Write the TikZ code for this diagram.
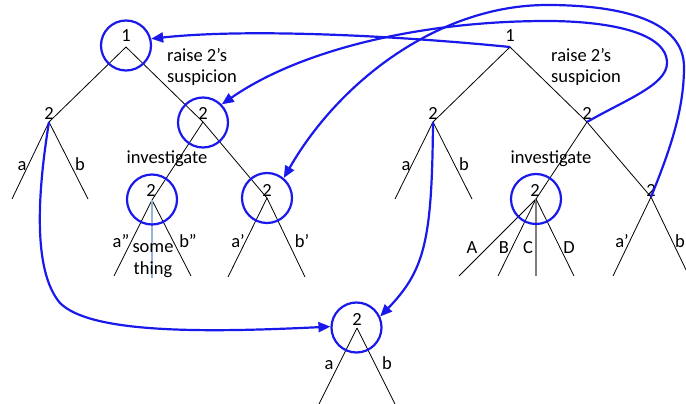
\documentclass[tikz,border=0pt]{standalone}
\usepackage{fontspec}
\setmainfont{Carlito}
\usetikzlibrary{arrows.meta}
\definecolor{arrowblue}{RGB}{25,25,235}
\definecolor{paleblue}{RGB}{150,180,215}
\definecolor{midgrey}{RGB}{125,125,125}
\begin{document}
\begin{tikzpicture}[x=1pt,y=-1pt,
  edge/.style={black, line width=0.8pt},
  ring/.style={circle, draw=arrowblue, line width=2.2pt, minimum size=50pt, inner sep=0pt},
  jump/.style={draw=arrowblue, line width=2.2pt, -{Triangle[length=12pt,width=10pt]}},
  lab/.style={font=\fontsize{18.5}{22}\selectfont, inner sep=0pt, anchor=base},
  labw/.style={lab, anchor=base west}]
\useasboundingbox (0,0) rectangle (686,404);
% vertices
\coordinate (L1) at (126,47);
\coordinate (L2a) at (49,122);
\coordinate (L2b) at (203,122);
\coordinate (L3a) at (152,200);
\coordinate (L3b) at (267,198);
\coordinate (La) at (12,199);
\coordinate (Lb) at (88,199);
\coordinate (La2) at (114,276);
\coordinate (Lb2) at (191,276);
\coordinate (Ls) at (152,278);
\coordinate (La1) at (228,277);
\coordinate (Lb1) at (305,277);
\coordinate (R1) at (510,47);
\coordinate (R2a) at (433,122);
\coordinate (R2b) at (587,122);
\coordinate (R3a) at (536,199);
\coordinate (R3b) at (651,197);
\coordinate (Ra) at (395,199);
\coordinate (Rb) at (472,199);
\coordinate (RA) at (459,276);
\coordinate (RB) at (498,276);
\coordinate (RC) at (536,276);
\coordinate (RD) at (574,276);
\coordinate (Ra1) at (613,276);
\coordinate (Rb1) at (689,276);
\coordinate (B) at (357,328);
\coordinate (Ba) at (319,404);
\coordinate (Bb) at (395,404);
% tree edges
\draw[edge] (L1) -- (L2a);
\draw[edge] (L1) -- (L2b);
\draw[edge] (L2b) -- (L3b);
\draw[edge] (L2b) -- (L3a);
\draw[edge] (L2a) -- (La);
\draw[edge] (L2a) -- (Lb);
\draw[edge] (L3a) -- (La2);
\draw[edge] (L3a) -- (Lb2);
\draw[paleblue, line width=1.5pt] (L3a) -- (Ls);
\draw[edge] (L3b) -- (La1);
\draw[edge] (L3b) -- (Lb1);
\draw[edge] (R1) -- (R2a);
\draw[edge] (R1) -- (R2b);
\draw[edge] (R2b) -- (R3b);
\draw[edge] (R2b) -- (R3a);
\draw[edge] (R2a) -- (Ra);
\draw[edge] (R2a) -- (Rb);
\draw[edge] (R3a) -- (RA);
\draw[edge] (R3a) -- (RB);
\draw[midgrey, line width=1.5pt] (R3a) -- (RC);
\draw[edge] (R3a) -- (RD);
\draw[edge] (R3b) -- (Ra1);
\draw[edge] (R3b) -- (Rb1);
\draw[edge] (B) -- (Ba);
\draw[edge] (B) -- (Bb);
% circles
\node[ring] (cL1) at (126,45.5) {};
\node[ring] (cL2) at (203,122.5) {};
\node[ring] (cL3) at (152,199.5) {};
\node[ring] (cL4) at (267,198) {};
\node[ring] (cR3) at (536,199) {};
\node[ring] (cB) at (356.5,327.5) {};
% labels
\node[lab] (tL1) at (126,42) {1};
\node[lab] (tL2a) at (49,119) {2};
\node[lab] (tL2b) at (203,119) {2};
\node[lab] (tL3a) at (151,196) {2};
\node[lab] (tL3b) at (267,196) {2};
\node[lab] (tR1) at (510,42) {1};
\node[lab] (tR2a) at (433,120) {2};
\node[lab] (tR2b) at (587,120) {2};
\node[lab] (tR3a) at (535,196.5) {2};
\node[lab] (tR3b) at (651,196.5) {2};
\node[lab] (tB) at (357,325) {2};
\node[labw] (rsL1) at (167,62) {raise 2’s};
\node[labw] (rsL2) at (167,83) {suspicion};
\node[labw] (rsR1) at (551,62) {raise 2’s};
\node[labw] (rsR2) at (551,83) {suspicion};
\node[lab] (invL) at (167,163) {investigate};
\node[lab] (invR) at (551,163) {investigate};
\node[lab] (la) at (22,170) {a};
\node[lab] (lb) at (80,170) {b};
\node[lab] (la2) at (121,247.5) {a”};
\node[lab] (lb2) at (188,247.5) {b”};
\node[lab] (some) at (153,252) {some};
\node[lab] (thing) at (153,274) {thing};
\node[lab] (la1) at (238,247) {a’};
\node[lab] (lb1) at (302,247) {b’};
\node[lab] (ra) at (406,170) {a};
\node[lab] (rb) at (464,170) {b};
\node[lab] (rA) at (472,253) {A};
\node[lab] (rB) at (504,253) {B};
\node[lab] (rC) at (528,253) {C};
\node[lab] (rD) at (569,253) {D};
\node[lab] (ra1) at (622,247) {a’};
\node[lab] (rb1) at (680,247) {b};
\node[lab] (ba) at (329,369) {a};
\node[lab] (bb) at (387,369) {b};
% blue arrows
\draw[jump] (R1) .. controls (400,36) and (250,28) .. (cL1.15);
\draw[jump] (R2b) .. controls (625,100) and (667,85) .. (667,63)
  .. controls (667,30) and (600,21) .. (547,21)
  .. controls (420,21) and (300,50) .. (cL2.44);
\draw[jump] (R3b) .. controls (670,150) and (684,110) .. (684,67)
  .. controls (684,20) and (620,5) .. (547,5)
  .. controls (440,5) and (340,80) .. (cL4.50);
\draw[jump] (L2a) .. controls (38,190) and (32,270) .. (60,303)
  .. controls (90,333) and (200,333) .. (cB.178);
\draw[jump] (R2a) .. controls (432,240) and (425,270) .. (cB.25);
\end{tikzpicture}
\end{document}
